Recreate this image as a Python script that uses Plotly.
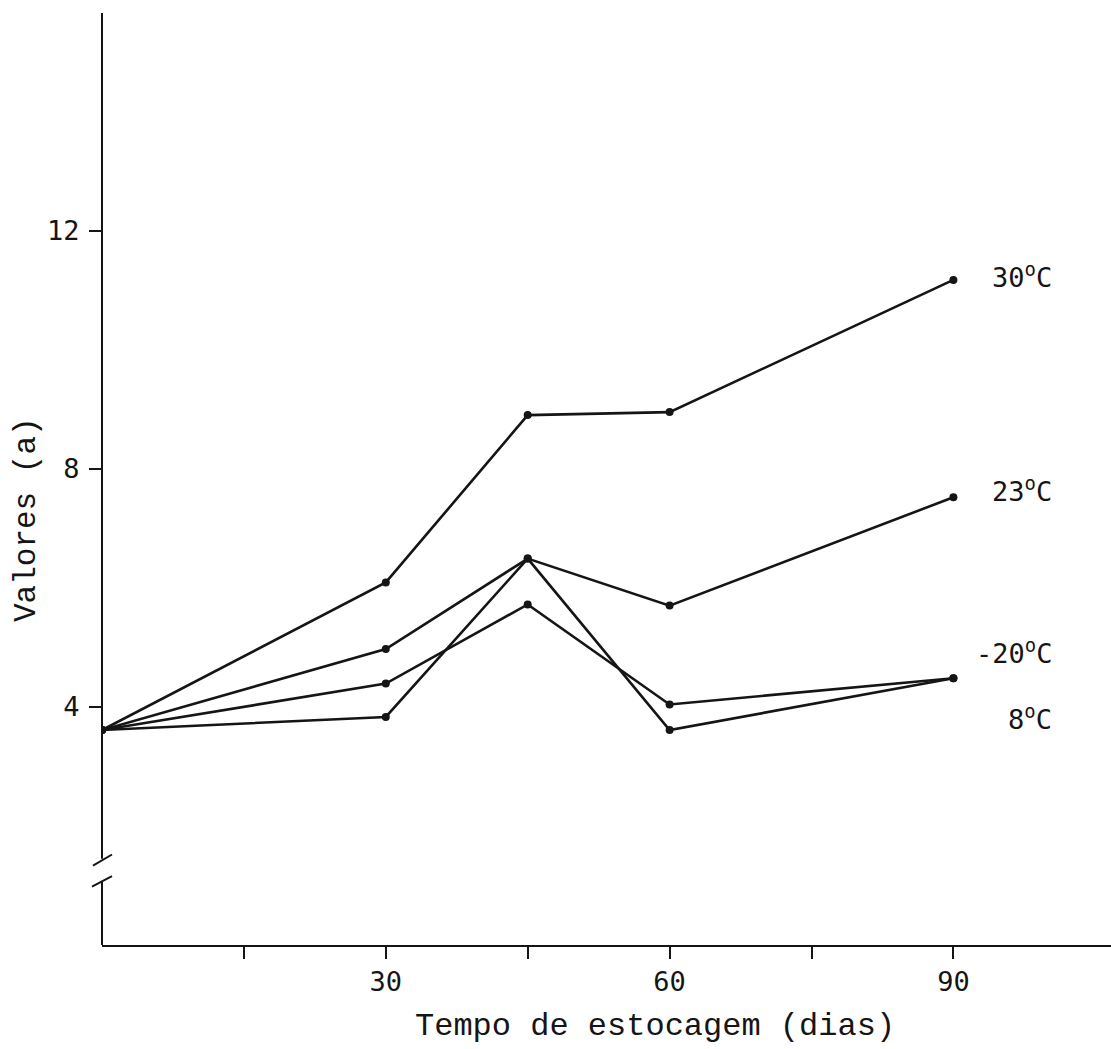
import plotly.graph_objects as go

# ---- data ----
dias = [0, 30, 45, 60, 90]
serie_30C = [3.61, 6.09, 8.90, 8.95, 11.17]
serie_23C = [3.61, 4.97, 6.49, 5.70, 7.52]
serie_m20C = [3.61, 4.39, 5.72, 4.04, 4.48]
serie_8C = [3.61, 3.83, 6.49, 3.61, 4.48]

series_names = ["30<sup>o</sup>C", "23<sup>o</sup>C", "-20<sup>o</sup>C", "8<sup>o</sup>C"]
label_y = [11.24, 7.65, 4.93, 3.82]

x_tickvals = [15, 30, 45, 60, 75, 90]
x_ticktext = ["", "30", "", "60", "", "90"]
y_tickvals = [4, 8, 12]
y_ticktext = [str(v) for v in y_tickvals]

# ---- layout geometry ----
W, H = 1111, 1049
ML, MR, MT, MB = 102, 0, 13, 104
PW = W - ML - MR
PH = H - MT - MB
x_range = [0, PW / 9.46]
y_range = [0, PH / 59.54]

INK = "#151515"
mono_sans = "DejaVu Sans Mono"
mono_serif = "Liberation Mono"

fig = go.Figure()
for vals in [serie_30C, serie_23C, serie_m20C, serie_8C]:
    fig.add_trace(go.Scatter(
        x=dias, y=vals, mode="lines+markers",
        line=dict(color=INK, width=2.6),
        marker=dict(color=INK, size=8),
        showlegend=False, hoverinfo="skip",
    ))

annotations = []
for name, ly in zip(series_names, label_y):
    annotations.append(dict(
        x=100.6, y=ly, xref="x", yref="y", text=name, showarrow=False,
        xanchor="right", yanchor="middle",
        font=dict(family=mono_sans, size=27, color=INK),
    ))
annotations.append(dict(
    x=(655 - ML) / PW, y=(H - MB - 1026) / PH, xref="paper", yref="paper",
    text="Tempo de estocagem (dias)", showarrow=False,
    xanchor="center", yanchor="middle",
    font=dict(family=mono_serif, size=32, color=INK),
))
annotations.append(dict(
    x=(26 - ML) / PW, y=(H - MB - 520) / PH, xref="paper", yref="paper",
    text="Valores (a)", showarrow=False, textangle=-90,
    xanchor="center", yanchor="middle",
    font=dict(family=mono_serif, size=31, color=INK),
))

px = 1.0 / PW
shapes = [
    # y axis line with break
    dict(type="line", xref="paper", yref="y", x0=0, x1=0, y0=1.45, y1=y_range[1],
         line=dict(color=INK, width=2)),
    dict(type="line", xref="paper", yref="y", x0=0, x1=0, y0=0, y1=1.08,
         line=dict(color=INK, width=2)),
    # break marks
    dict(type="line", xref="paper", yref="y", x0=-9 * px, x1=10 * px, y0=1.335, y1=1.52,
         line=dict(color=INK, width=2)),
    dict(type="line", xref="paper", yref="y", x0=-10 * px, x1=10 * px, y0=0.98, y1=1.155,
         line=dict(color=INK, width=2)),
]

fig.update_layout(
    width=W, height=H,
    margin=dict(l=ML, r=MR, t=MT, b=MB),
    paper_bgcolor="white", plot_bgcolor="white",
    annotations=annotations, shapes=shapes,
    xaxis=dict(
        range=x_range, showgrid=False, zeroline=False,
        showline=True, linecolor=INK, linewidth=2,
        tickmode="array", tickvals=x_tickvals, ticktext=x_ticktext,
        ticks="outside", ticklen=12, tickwidth=1.5, tickcolor=INK,
        ticklabelstandoff=0,
        tickfont=dict(family=mono_sans, size=27, color=INK),
    ),
    yaxis=dict(
        range=y_range, showgrid=False, zeroline=False, showline=False,
        tickmode="array", tickvals=y_tickvals, ticktext=y_ticktext,
        ticks="outside", ticklen=12, tickwidth=1.5, tickcolor=INK,
        ticklabelstandoff=4,
        tickfont=dict(family=mono_sans, size=27, color=INK),
    ),
)

fig.write_html("out.html")
